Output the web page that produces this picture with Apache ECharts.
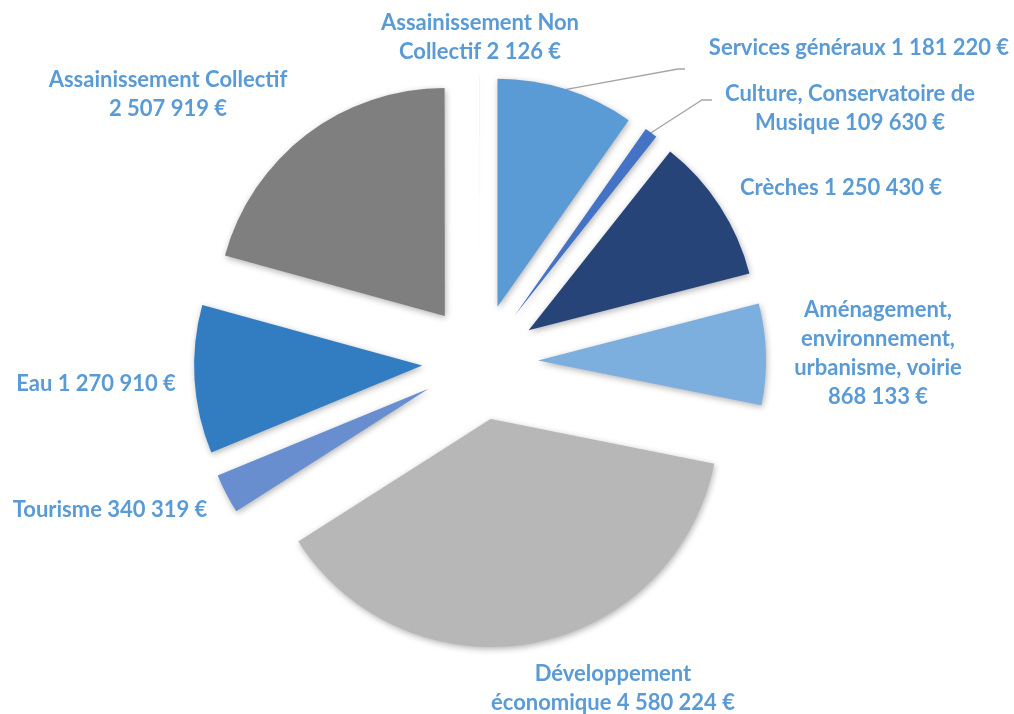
<!DOCTYPE html>
<html style="height: 100%">
<head>
	<meta charset="utf-8">
</head>
<body style="height: 100%; margin: 0; background: #ffffff">
<div id="container" style="width: 1014px; height: 714px"></div>
<script src="https://cdn.jsdelivr.net/npm/echarts@6/dist/echarts.min.js"></script>
<script type="text/javascript">
	var categories = [
		'Services généraux',
		'Culture, Conservatoire de Musique',
		'Crèches',
		'Aménagement, environnement, urbanisme, voirie',
		'Développement économique',
		'Tourisme',
		'Eau',
		'Assainissement Collectif',
		'Assainissement Non Collectif'
	];
	var amounts = [1181220, 109630, 1250430, 868133, 4580224, 340319, 1270910, 2507919, 2126];

	var colors = ['#5B9BD5', '#4472C4', '#264478', '#7CAFDD', '#B7B7B7', '#698ED0', '#327DC2', '#7F7F7F', '#C9D6EA'];

	// pie geometry
	var CX = 480, CY = 362, R = 228, EXPLODE = 58;

	// label placement (centre of each text block) and after which words it wraps
	var labelPos = [[859, 48], [850, 108], [841, 188], [878, 353], [613, 688], [110, 510], [96, 384], [168, 94], [480, 37]];
	var breakAfter = [[], [3], [], [1, 2, 4], [1], [], [], [2], [2]];
	// leader lines: label-side end points (only the two thin slices at the top have one)
	var leaderEnd = {
		0: [[678, 69], [685, 69]],
		1: [[702, 100], [712, 100]]
	};

	function euro(v) {
		return String(v).replace(/\B(?=(\d{3})+(?!\d))/g, ' ') + ' €';
	}

	function labelText(i) {
		var words = (categories[i] + ' ' + euro(amounts[i])).split(' ');
		var out = '';
		for (var k = 0; k < words.length; k++) {
			if (k > 0) {
				out += breakAfter[i].indexOf(k) >= 0 ? '\n' : ' ';
			}
			out += words[k];
		}
		return out;
	}

	// point on the outer arc of an exploded slice, at its middle angle
	function arcAnchor(i) {
		var total = 0, before = 0;
		for (var k = 0; k < amounts.length; k++) {
			total += amounts[k];
			if (k < i) before += amounts[k];
		}
		var a = (before + amounts[i] / 2) / total * Math.PI * 2;
		return [CX + (R + EXPLODE) * Math.sin(a), CY - (R + EXPLODE) * Math.cos(a)];
	}

	var pieData = [];
	var labelData = [];
	for (var i = 0; i < categories.length; i++) {
		pieData.push({
			name: categories[i],
			value: amounts[i],
			selected: true,
			itemStyle: { color: colors[i] }
		});
		labelData.push({
			name: categories[i],
			value: amounts[i],
			labelLine: { show: !!leaderEnd[i] }
		});
	}

	var dom = document.getElementById('container');
	var myChart = echarts.init(dom);
	var option = {
		animation: false,
		backgroundColor: '#ffffff',
		series: [{
			// the exploded slices
			type: 'pie',
			silent: true,
			center: [CX, CY],
			radius: R,
			startAngle: 90,
			clockwise: true,
			selectedMode: 'multiple',
			selectedOffset: EXPLODE,
			data: pieData,
			itemStyle: {
				borderWidth: 0,
				shadowBlur: 6,
				shadowColor: 'rgba(0, 0, 0, 0.3)',
				shadowOffsetX: 1,
				shadowOffsetY: 2
			},
			select: { itemStyle: { borderWidth: 0 } },
			emphasis: { disabled: true },
			label: { show: false },
			labelLine: { show: false }
		}, {
			// same slices, invisible, carrying the data labels
			type: 'pie',
			silent: true,
			center: [CX, CY],
			radius: R,
			startAngle: 90,
			clockwise: true,
			avoidLabelOverlap: false,
			data: labelData,
			itemStyle: { color: 'rgba(0,0,0,0)', borderWidth: 0 },
			emphasis: { disabled: true },
			label: {
				show: true,
				position: 'outside',
				color: '#5B9BD5',
				fontFamily: 'Lato',
				fontWeight: 'bold',
				fontSize: 22,
				lineHeight: 29,
				align: 'center',
				formatter: function (p) {
					return labelText(p.dataIndex);
				}
			},
			labelLine: {
				lineStyle: { color: '#A6A6A6', width: 1.3 }
			},
			labelLayout: function (p) {
				var i = p.dataIndex;
				var out = { x: labelPos[i][0], y: labelPos[i][1], align: 'center', verticalAlign: 'middle' };
				if (leaderEnd[i]) {
					out.labelLinePoints = [arcAnchor(i)].concat(leaderEnd[i]);
				}
				return out;
			}
		}]
	};
	myChart.setOption(option, true);
</script>
</body>
</html>
